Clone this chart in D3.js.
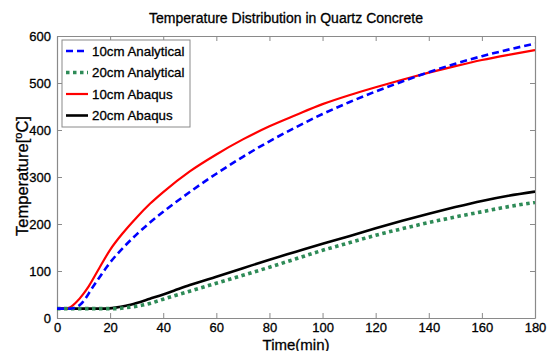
<!DOCTYPE html>
<html>
<head>
<meta charset="utf-8">
<script src="https://cdn.jsdelivr.net/npm/d3@7"></script>
<style>
  html, body { margin: 0; padding: 0; background: #fff; }
  svg text { font-family: "Liberation Sans", Arial, sans-serif; stroke: #000; stroke-width: 0.3px; }
</style>
</head>
<body>
<svg id="chart" width="547" height="351"></svg>
<script>
// Time (min) sample points and temperatures (°C) for each curve
const time10A = [0, 5, 7, 9.4, 13.5, 18.8, 20, 25, 30, 35, 40, 50, 60, 70, 80, 90, 100, 110, 120, 130, 140, 150, 160, 170, 180];
const temp10A = [20, 20, 22, 32, 66, 109, 118, 150, 178, 203, 226, 268, 307, 343, 376, 406, 434, 459, 482, 503, 523, 541, 557, 571, 584];

const time20A = [0, 22, 26, 30, 35, 40, 44, 50, 60, 70, 80, 90, 100, 110, 120, 130, 140, 150, 160, 170, 180];
const temp20A = [20, 20, 22, 25, 31, 40, 47, 57, 74, 91, 108, 126, 144, 160, 176, 190, 203, 215, 226, 237, 246];

const time10B = [0, 3, 5, 7.5, 10, 12, 16, 20, 25, 30, 35, 40, 50, 60, 70, 80, 90, 100, 110, 120, 130, 140, 150, 160, 170, 180];
const temp10B = [20, 20, 23, 35, 52, 68, 107, 145, 182, 214, 243, 268, 312, 348, 380, 408, 432, 455, 474, 491, 507, 522, 536, 549, 560, 570];

const time20B = [0, 18, 22, 26, 30, 35, 40, 44, 50, 60, 70, 80, 90, 100, 110, 120, 130, 140, 150, 160, 170, 180];
const temp20B = [20, 20, 22, 26, 32, 41, 50, 58, 70, 88, 106, 124, 141, 158, 174, 191, 207, 222, 236, 249, 260, 269];

const seriesNames = ["10cm Analytical", "20cm Analytical", "10cm Abaqus", "20cm Abaqus"];
const xTicks = [0, 20, 40, 60, 80, 100, 120, 140, 160, 180];
const yTicks = [0, 100, 200, 300, 400, 500, 600];

const titleText = "Temperature Distribution in Quartz Concrete";
const xLabel = "Time(min)";

const styles = [
  { color: "#0000ff", width: 2.6, dash: "7,4" },
  { color: "#2e8b57", width: 3.6, dash: "3.5,3.5" },
  { color: "#ff0000", width: 2.2, dash: null },
  { color: "#000000", width: 2.6, dash: null }
];

const series = [
  { name: seriesNames[0], t: time10A, v: temp10A },
  { name: seriesNames[1], t: time20A, v: temp20A },
  { name: seriesNames[2], t: time10B, v: temp10B },
  { name: seriesNames[3], t: time20B, v: temp20B }
];

const m = { left: 57, right: 535, top: 36, bottom: 318 };
const svg = d3.select("#chart");

const x = d3.scaleLinear().domain([0, 180]).range([m.left, m.right]);
const y = d3.scaleLinear().domain([0, 600]).range([m.bottom, m.top]);

const axisColor = "#8a8a8a";

// Clip curves to plot box
svg.append("defs").append("clipPath").attr("id", "plotClip")
  .append("rect").attr("x", m.left).attr("y", m.top)
  .attr("width", m.right - m.left).attr("height", m.bottom - m.top);

// Bottom / left axes with inward ticks
const xAxis = d3.axisBottom(x).tickValues(xTicks).tickSizeInner(-5).tickSizeOuter(0).tickPadding(5);
const yAxis = d3.axisLeft(y).tickValues(yTicks).tickSizeInner(-5).tickSizeOuter(0).tickPadding(6);

const gx = svg.append("g").attr("transform", `translate(0,${m.bottom})`).call(xAxis);
const gy = svg.append("g").attr("transform", `translate(${m.left},0)`).call(yAxis);
// Mirrored ticks on top and right
const gxt = svg.append("g").attr("transform", `translate(0,${m.top})`)
  .call(d3.axisTop(x).tickValues(xTicks).tickSizeInner(-5).tickSizeOuter(0).tickFormat(""));
const gyr = svg.append("g").attr("transform", `translate(${m.right},0)`)
  .call(d3.axisRight(y).tickValues(yTicks).tickSizeInner(-5).tickSizeOuter(0).tickFormat(""));

[gx, gy, gxt, gyr].forEach(g => {
  g.select(".domain").attr("stroke", axisColor).attr("stroke-width", 1.2);
  g.selectAll(".tick line").attr("stroke", axisColor).attr("stroke-width", 1);
  g.selectAll(".tick text").attr("fill", "#000").attr("font-size", 13)
    .attr("font-family", "Liberation Sans, Arial, sans-serif");
});

// Curves
const line = d3.line().x(d => x(d[0])).y(d => y(d[1])).curve(d3.curveMonotoneX);
const plot = svg.append("g").attr("clip-path", "url(#plotClip)");
// draw order: analytical dashed on top of the solid ones
const order = [3, 2, 1, 0];
order.forEach(i => {
  const s = series[i], st = styles[i];
  const pts = s.t.map((t, k) => [t, s.v[k]]);
  plot.append("path").datum(pts)
    .attr("d", line)
    .attr("fill", "none")
    .attr("stroke", st.color)
    .attr("stroke-width", st.width)
    .attr("stroke-dasharray", st.dash)
    .attr("stroke-linejoin", "round");
});

// Title
svg.append("text").attr("x", 286).attr("y", 23).attr("text-anchor", "middle")
  .attr("font-size", 14).attr("fill", "#000").text(titleText);

// X label
svg.append("text").attr("x", 296).attr("y", 349.5).attr("text-anchor", "middle")
  .attr("font-size", 15).attr("fill", "#000").text(xLabel);

// Y label with superscript degree mark
const yl = svg.append("text").attr("transform", "translate(28,176) rotate(-90)")
  .attr("text-anchor", "middle").attr("font-size", 16.5).attr("fill", "#000");
yl.append("tspan").text("Temperature[");
yl.append("tspan").attr("dy", -6).attr("font-size", 11).text("o");
yl.append("tspan").attr("dy", 6).text("C]");

// Legend
const lg = svg.append("g");
lg.append("rect").attr("x", 62).attr("y", 40).attr("width", 128).attr("height", 87)
  .attr("fill", "#fff").attr("stroke", axisColor).attr("stroke-width", 1);
series.forEach((s, i) => {
  const yy = 51 + i * 21.5;
  lg.append("line").attr("x1", 66).attr("x2", 88).attr("y1", yy).attr("y2", yy)
    .attr("stroke", styles[i].color).attr("stroke-width", styles[i].width)
    .attr("stroke-dasharray", styles[i].dash);
  lg.append("text").attr("x", 92).attr("y", yy + 4.5).attr("font-size", 13.3)
    .attr("fill", "#000").text(s.name);
});
</script>
</body>
</html>
